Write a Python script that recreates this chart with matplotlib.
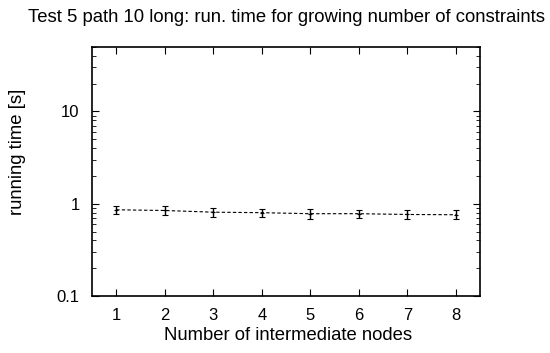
import numpy as np
import matplotlib.pyplot as plt
from matplotlib.ticker import LogLocator, NullFormatter, FixedLocator, FixedFormatter

plt.rcParams['font.family'] = ['Liberation Sans', 'DejaVu Sans']

# datos
nodos = [1, 2, 3, 4, 5, 6, 7, 8]
tiempo = [0.86, 0.845, 0.81, 0.80, 0.78, 0.78, 0.765, 0.76]
error = [0.09, 0.09, 0.085, 0.085, 0.095, 0.085, 0.08, 0.085]
yticks = [0.1, 1, 10]
ytick_labels = ['0.1', '1', '10']

W, H = 550, 353
fig = plt.figure(figsize=(5.5, 3.53), dpi=100)
ax = fig.add_axes([92/W, 1 - 296/H, (480-92)/W, (296-47)/H])

ax.errorbar(nodos, tiempo, yerr=error, color='black', lw=0.8, ls=(0, (3, 2)),
            elinewidth=1.0, capsize=2.5, capthick=1.0, marker='+', ms=3, mew=0.8)

ax.set_yscale('log')
ax.set_ylim(0.1, 50)
ax.set_xlim(0.5, 8.5)
ax.set_xticks(nodos)
ax.yaxis.set_major_locator(FixedLocator(yticks))
ax.yaxis.set_major_formatter(FixedFormatter(ytick_labels))
ax.yaxis.set_minor_locator(LogLocator(base=10, subs=np.arange(2, 10)))
ax.yaxis.set_minor_formatter(NullFormatter())

ax.tick_params(which='both', direction='in', top=True, right=True, labelsize=12)
ax.tick_params(axis='x', pad=9)
ax.tick_params(axis='y', pad=9)
ax.tick_params(which='major', length=5, width=0.8)
ax.tick_params(which='minor', length=3, width=0.6)
for s in ax.spines.values():
    s.set_linewidth(1.2)

# textos en posiciones de pixel
fig.text(287/W, 1 - 17/H, "Test 5 path 10 long: run. time for growing number of constraints",
         fontsize=13.3, ha='center', va='center')
fig.text(288/W, 1 - 336/H, "Number of intermediate nodes", fontsize=13.3, ha='center', va='center')
fig.text(18/W, 1 - 152/H, "running time [s]", fontsize=13.3, ha='center', va='center', rotation=90)

fig.savefig('out.png', dpi=100)
